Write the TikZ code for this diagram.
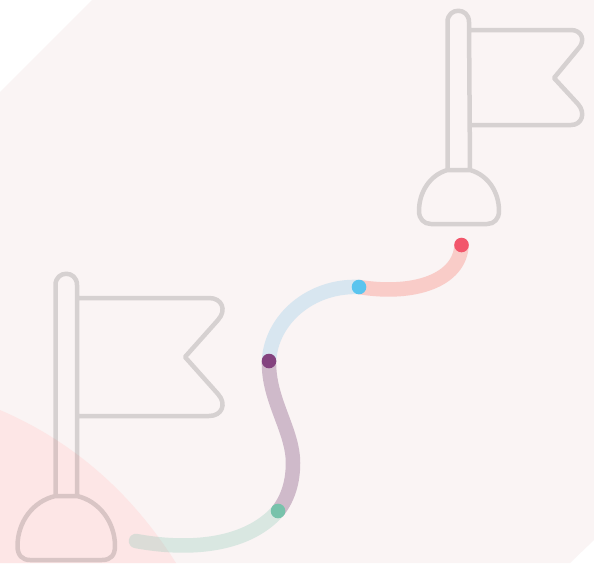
\documentclass[tikz,border=0pt]{standalone}
\definecolor{bgp}{HTML}{FAF4F4}
\definecolor{pk}{HTML}{FDE6E6}
\definecolor{dred}{HTML}{F2566B}
\definecolor{dblue}{HTML}{5AC4EE}
\definecolor{dpur}{HTML}{84437F}
\definecolor{dgrn}{HTML}{78C2AB}
\definecolor{cred}{HTML}{F9CCC8}
\definecolor{cblue}{HTML}{D8E6F0}
\definecolor{cpur}{HTML}{CFBACA}
\tikzset{
  flagline/.style={draw=black,draw opacity=.14,line width=4.5pt,line join=round},
  trail/.style={line width=14.5pt},
  stopdot/.style={fill=#1,draw=none}
}
\begin{document}
\begin{tikzpicture}[x=1pt,y=-1pt]
\useasboundingbox (0,0) rectangle (594,563);
\fill[white] (0,0) rectangle (594,563);
\fill[bgp] (92,0) -- (594,0) -- (594,540) -- (570,563) -- (0,563) -- (0,92) -- cycle;
\fill[pk] (0,410) .. controls (70,440) and (130,490) .. (176,563) -- (0,563) -- cycle;
% left flag
\draw[flagline]
  (55.5,495) -- (55.5,285) .. controls (55.5,270) and (77,270) .. (77,285) -- (77,495)
  (55.5,496) -- (77,496)
  (55.5,496) .. controls (33,501) and (17.5,522) .. (17.5,546) .. controls (17.5,555) and (22,560) .. (30,560)
  -- (102,560) .. controls (111,560) and (115,555) .. (115,546) .. controls (115,522) and (99,501) .. (77,496)
  (77,298) -- (209,298) .. controls (222,298) and (227,310) .. (218,320) -- (185,357) -- (218,394)
  .. controls (227,404) and (222,416) .. (209,416) -- (77,416);
% right flag
\draw[flagline]
  (447.5,170) -- (447.5,22) .. controls (447.5,7) and (469,7) .. (469,22) -- (470,170)
  (447.5,170) -- (470,170)
  (447.5,170) .. controls (430,175) and (419,192) .. (419,211) .. controls (419,219) and (424,224) .. (431,224)
  -- (487,224) .. controls (494,224) and (499,219) .. (499,211) .. controls (499,192) and (488,175) .. (470,170)
  (469.5,30) -- (571,30) .. controls (582,30) and (586,41) .. (578,49) -- (554,78) -- (578,104)
  .. controls (586,113) and (582,125) .. (571,125) -- (470,125);
% trails
\coordinate (r) at (461.5,245);
\coordinate (b) at (359,287);
\coordinate (p) at (269,361);
\coordinate (g) at (278,511);
\coordinate (s) at (136,541);
\draw[trail,cred] (r) .. controls (460,280) and (415,296) .. (359,287);
\draw[trail,cblue] (b) .. controls (310,285) and (271,320) .. (269,361);
\draw[trail,cpur] (p) .. controls (268,400) and (293,430) .. (293,463) .. controls (293,482) and (288,498) .. (278,511);
\draw[trail,dgrn,opacity=.25,line cap=round] (s) .. controls (185,550) and (245,548) .. (278,511);
\fill[stopdot=dred] (r) circle (7.3);
\fill[stopdot=dblue] (b) circle (7.3);
\fill[stopdot=dpur] (p) circle (7.3);
\fill[stopdot=dgrn] (g) circle (7.3);
\end{tikzpicture}
\end{document}
